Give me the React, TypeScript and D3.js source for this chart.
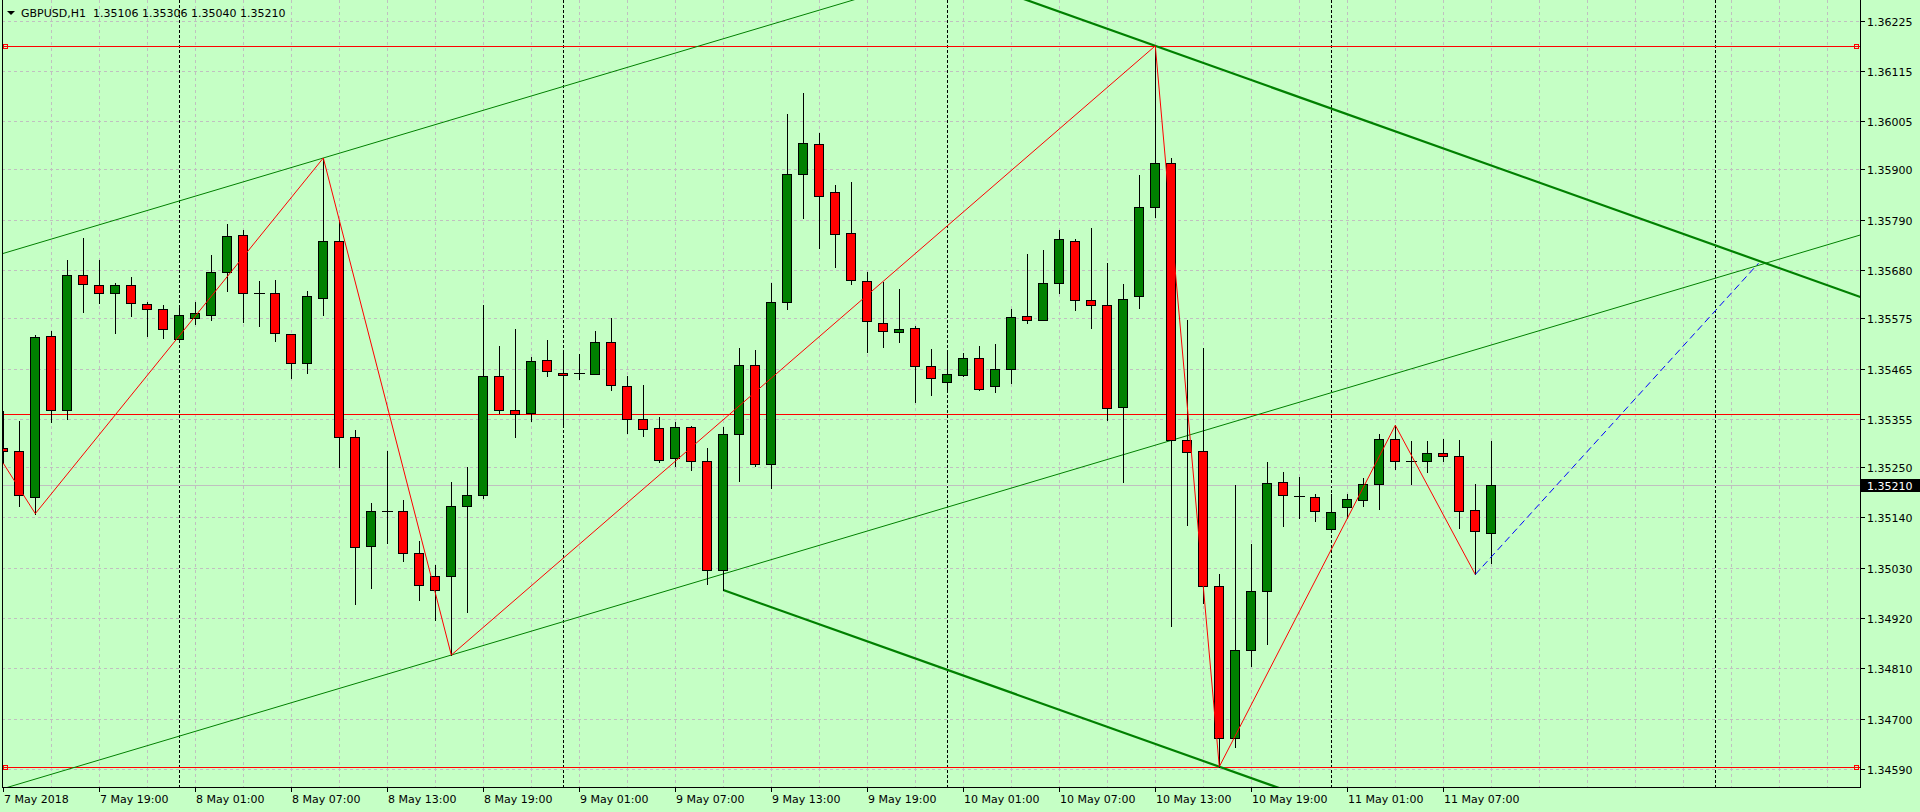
import React, { useEffect } from 'react'
import * as d3 from 'd3'

// GBPUSD H1, first visible bar = 7 May 2018 13:00
const symbolTitle = 'GBPUSD,H1'
const opens = [1.35291,1.35284,1.35185,1.35535,1.35374,1.35669,1.35647,1.35629,1.35647,1.35606,
  1.35594,1.35529,1.35575,1.35583,1.35677,1.35757,1.35630,1.35629,1.35540,1.35478,
  1.35620,1.35743,1.35315,1.35078,1.35153,1.35153,1.35061,1.35011,1.35011,1.35164,
  1.35188,1.35448,1.35374,1.35367,1.35483,1.35455,1.35455,1.35454,1.35524,1.35426,
  1.35355,1.35334,1.35269,1.35337,1.35262,1.35024,1.35323,1.35472,1.35256,1.35610,
  1.35889,1.35955,1.35850,1.35762,1.35656,1.35564,1.35544,1.35553,1.35470,1.35436,
  1.35451,1.35489,1.35426,1.35463,1.35579,1.35572,1.35651,1.35743,1.35614,1.35603,
  1.35381,1.35623,1.35819,1.35915,1.35308,1.35284,1.34989,1.34657,1.34851,1.34980,
  1.35216,1.35187,1.35184,1.35114,1.35162,1.35177,1.35212,1.35310,1.35262,1.35264,
  1.35280,1.35273,1.35155,1.35106]
const highs = [1.35372,1.35350,1.35538,1.35547,1.35702,1.35750,1.35702,1.35651,1.35665,1.35610,
  1.35603,1.35597,1.35610,1.35713,1.35781,1.35767,1.35656,1.35658,1.35541,1.35634,
  1.35925,1.35789,1.35330,1.35172,1.35284,1.35178,1.35088,1.35035,1.35216,1.35250,
  1.35603,1.35514,1.35551,1.35490,1.35528,1.35506,1.35497,1.35546,1.35575,1.35448,
  1.35429,1.35359,1.35348,1.35339,1.35291,1.35337,1.35509,1.35506,1.35651,1.36021,
  1.36067,1.35979,1.35865,1.35872,1.35675,1.35655,1.35639,1.35559,1.35507,1.35506,
  1.35500,1.35514,1.35518,1.35594,1.35715,1.35725,1.35768,1.35749,1.35773,1.35695,
  1.35649,1.35887,1.36170,1.35924,1.35570,1.35509,1.35015,1.35210,1.35081,1.35261,
  1.35238,1.35228,1.35191,1.35191,1.35191,1.35225,1.35323,1.35341,1.35306,1.35306,
  1.35310,1.35308,1.35212,1.35306]
const lows = [1.35258,1.35165,1.35148,1.35349,1.35354,1.35588,1.35609,1.35543,1.35580,1.35537,
  1.35532,1.35527,1.35562,1.35572,1.35635,1.35567,1.35558,1.35526,1.35445,1.35456,
  1.35583,1.35249,1.34950,1.34985,1.35084,1.35044,1.34959,1.34915,1.34839,1.34934,
  1.35183,1.35368,1.35316,1.35351,1.35448,1.35342,1.35443,1.35454,1.35419,1.35325,
  1.35318,1.35260,1.35253,1.35244,1.34994,1.34981,1.35220,1.35253,1.35203,1.35595,
  1.35794,1.35729,1.35687,1.35649,1.35502,1.35513,1.35524,1.35392,1.35408,1.35421,
  1.35449,1.35419,1.35413,1.35433,1.35564,1.35570,1.35631,1.35592,1.35553,1.35352,
  1.35218,1.35597,1.35797,1.34903,1.35124,1.34952,1.34595,1.34639,1.34815,1.34864,
  1.35122,1.35139,1.35131,1.35107,1.35139,1.35164,1.35159,1.35246,1.35212,1.35240,
  1.35262,1.35117,1.35015,1.35040]
const closes = [1.35285,1.35188,1.35533,1.35374,1.35669,1.35649,1.35629,1.35647,1.35608,1.35594,
  1.35551,1.35581,1.35586,1.35677,1.35754,1.35631,1.35630,1.35542,1.35478,1.35623,
  1.35743,1.35315,1.35074,1.35153,1.35153,1.35061,1.34992,1.34981,1.35164,1.35188,
  1.35448,1.35374,1.35365,1.35481,1.35459,1.35451,1.35455,1.35524,1.35428,1.35355,
  1.35332,1.35266,1.35337,1.35262,1.35024,1.35323,1.35472,1.35257,1.35610,1.35889,
  1.35957,1.35843,1.35758,1.35658,1.35568,1.35546,1.35551,1.35470,1.35444,1.35452,
  1.35487,1.35421,1.35463,1.35577,1.35572,1.35651,1.35748,1.35614,1.35603,1.35378,
  1.35618,1.35817,1.35915,1.35308,1.35282,1.34989,1.34657,1.34851,1.34978,1.35214,
  1.35188,1.35187,1.35153,1.35151,1.35180,1.35212,1.35310,1.35262,1.35262,1.35280,
  1.35273,1.35153,1.35109,1.35210]

const timeLabels = ['7 May 2018','7 May 19:00','8 May 01:00','8 May 07:00','8 May 13:00','8 May 19:00',
  '9 May 01:00','9 May 07:00','9 May 13:00','9 May 19:00','10 May 01:00','10 May 07:00',
  '10 May 13:00','10 May 19:00','11 May 01:00','11 May 07:00']
const labelEvery = 6
const priceTicks = [1.36225,1.36115,1.36005,1.35900,1.35790,1.35680,1.35575,1.35465,
  1.35355,1.35250,1.35140,1.35030,1.34920,1.34810,1.34700,1.34590]
const lastPrice = 1.35210
const daySeparators = [11, 35, 59, 83, 107]

// objects on chart: [bar index, price]
const zigzag = [[0,1.35258],[2,1.35148],[20,1.35925],[28,1.34839],[72,1.36170],[76,1.34595],[87,1.35341],[92,1.35015]]
const projection = [[92,1.35015],[109.7,1.35695]]
const hLevels = [1.36170, 1.35365, 1.34595]
const hLevelHandles = [true, false, true]
const thinBase = [[28,1.34839],[73,1.35308]]
const thinOpposite = [20,1.35925]
const thickBase = [[45,1.34981],[76,1.34595]]
const thickOpposite = [72,1.36170]

const W = 1920, H = 812
const plotL = 2, plotR = 1860, plotB = 787
const bg = '#C5FFC5'
const font = 'DejaVu Sans, Verdana, sans-serif'

export default function App() {
  useEffect(() => { document.body.style.margin = '0' }, [])

  const x = d3.scaleLinear().domain([0, 1]).range([3.3, 19.3])
  const y = d3.scaleLinear().domain([1.34590, 1.36225]).range([769, 20.7])

  // line through two points, extended from bar a to bar b
  const extLine = (p1, p2, a, b) => {
    const k = (p2[1] - p1[1]) / (p2[0] - p1[0])
    const f = (i) => p1[1] + k * (i - p1[0])
    return d3.line()([[x(a), y(f(a))], [x(b), y(f(b))]])
  }
  const parallel = (base, p, a, b) => {
    const k = (base[1][1] - base[0][1]) / (base[1][0] - base[0][0])
    return extLine(p, [p[0] + 1, p[1] + k], a, b)
  }

  const lineGen = d3.line().x(d => x(d[0])).y(d => y(d[1]))
  const gridX = d3.range(3, 117, 3)
  const fmt = d3.format('.5f')

  return (
    <svg width={W} height={H} style={{ position: 'absolute', left: 0, top: 0, display: 'block' }}
      fontFamily={font} fontSize={11}>
      <defs>
        <clipPath id="plot"><rect x={plotL} y={0} width={plotR - plotL} height={plotB} /></clipPath>
      </defs>
      <rect x={0} y={0} width={W} height={H} fill={bg} />

      <g shapeRendering="crispEdges">
        {priceTicks.map(v => (
          <line key={'h' + v} x1={plotL} x2={plotR} y1={Math.round(y(v)) + 0.5} y2={Math.round(y(v)) + 0.5}
            stroke="#C0C0C0" strokeDasharray="3,3" />
        ))}
        {gridX.map(i => (
          <line key={'v' + i} x1={Math.round(x(i)) + 0.5} x2={Math.round(x(i)) + 0.5} y1={0} y2={plotB}
            stroke="#C0C0C0" strokeDasharray="3,3" />
        ))}
        {daySeparators.map(i => (
          <line key={'d' + i} x1={Math.round(x(i)) + 0.5} x2={Math.round(x(i)) + 0.5} y1={0} y2={plotB}
            stroke="#000" strokeDasharray="3,2" />
        ))}
      </g>

      <g clipPath="url(#plot)">
        <line x1={plotL} x2={plotR} y1={Math.round(y(lastPrice)) + 0.5} y2={Math.round(y(lastPrice)) + 0.5}
          stroke="#C0C0C0" shapeRendering="crispEdges" />
        {hLevels.map(v => (
          <line key={'l' + v} x1={plotL} x2={plotR} y1={Math.round(y(v)) + 0.5} y2={Math.round(y(v)) + 0.5}
            stroke="#FF0000" shapeRendering="crispEdges" />
        ))}
        <path d={extLine(thinBase[0], thinBase[1], -10, 125)} stroke="#008000" fill="none" />
        <path d={parallel(thinBase, thinOpposite, -10, 125)} stroke="#008000" fill="none" />
        <path d={extLine(thickBase[0], thickBase[1], thickBase[0][0], 125)} stroke="#008000" strokeWidth={2.2} fill="none" />
        <path d={parallel(thickBase, thickOpposite, thickBase[0][0], 125)} stroke="#008000" strokeWidth={2.2} fill="none" />

        <g shapeRendering="crispEdges">
          {opens.map((o, i) => {
            const c = closes[i]
            const cx = Math.round(x(i))
            const top = Math.round(y(Math.max(o, c)))
            const bot = Math.round(y(Math.min(o, c)))
            const fill = c > o ? '#008000' : '#FF0000'
            return (
              <g key={'c' + i}>
                <line x1={cx + 0.5} x2={cx + 0.5} y1={Math.round(y(highs[i]))} y2={Math.round(y(lows[i])) + 1} stroke="#000" />
                {bot - top < 1
                  ? <line x1={cx - 5} x2={cx + 6} y1={top + 0.5} y2={top + 0.5} stroke="#000" />
                  : <rect x={cx - 4.5} y={top + 0.5} width={9} height={bot - top} fill={fill} stroke="#000" />}
              </g>
            )
          })}
        </g>

        <path d={lineGen(zigzag)} stroke="#FF0000" fill="none" strokeWidth={1} />
        <path d={lineGen(projection)} stroke="#0000FF" fill="none" strokeWidth={1} strokeDasharray="7,4" />
        {hLevels.map((v, k) => hLevelHandles[k] ? (
          <g key={'hh' + v} shapeRendering="crispEdges">
            <rect x={3.5} y={Math.round(y(v)) - 1.5} width={4} height={4} fill="none" stroke="#FF0000" />
            <rect x={1854.5} y={Math.round(y(v)) - 1.5} width={4} height={4} fill="none" stroke="#FF0000" />
          </g>
        ) : null)}
      </g>

      {/* frame */}
      <g shapeRendering="crispEdges" stroke="#000">
        <line x1={plotL + 0.5} x2={plotL + 0.5} y1={0} y2={plotB + 1} />
        <line x1={plotR + 0.5} x2={plotR + 0.5} y1={0} y2={plotB + 1} />
        <line x1={plotL} x2={plotR + 1} y1={plotB + 0.5} y2={plotB + 0.5} />
      </g>

      {/* price axis */}
      <g>
        {priceTicks.map(v => (
          <g key={'t' + v}>
            <line x1={plotR} x2={plotR + 5} y1={Math.round(y(v)) + 0.5} y2={Math.round(y(v)) + 0.5} stroke="#000" shapeRendering="crispEdges" />
            <text x={1867} y={Math.round(y(v)) + 4.5} fill="#000">{fmt(v)}</text>
          </g>
        ))}
        <rect x={1861} y={Math.round(y(lastPrice)) - 6} width={59} height={13} fill="#000" />
        <text x={1867} y={Math.round(y(lastPrice)) + 4.5} fill="#fff">{fmt(lastPrice)}</text>
      </g>

      {/* time axis */}
      <g>
        {timeLabels.map((t, k) => {
          const tx = Math.round(x(k * labelEvery))
          return (
            <g key={'x' + k}>
              <line x1={tx + 0.5} x2={tx + 0.5} y1={plotB} y2={plotB + 5} stroke="#000" shapeRendering="crispEdges" />
              <text x={tx + 1} y={803} fill="#000">{t}</text>
            </g>
          )
        })}
      </g>

      {/* header */}
      <path d="M7,11 L15,11 L11,15 Z" fill="#000" />
      <text x={21} y={17} fill="#000" style={{ whiteSpace: 'pre' }}>
        {symbolTitle + '  ' + [opens[93], highs[93], lows[93], closes[93]].map(fmt).join(' ')}
      </text>
    </svg>
  )
}
